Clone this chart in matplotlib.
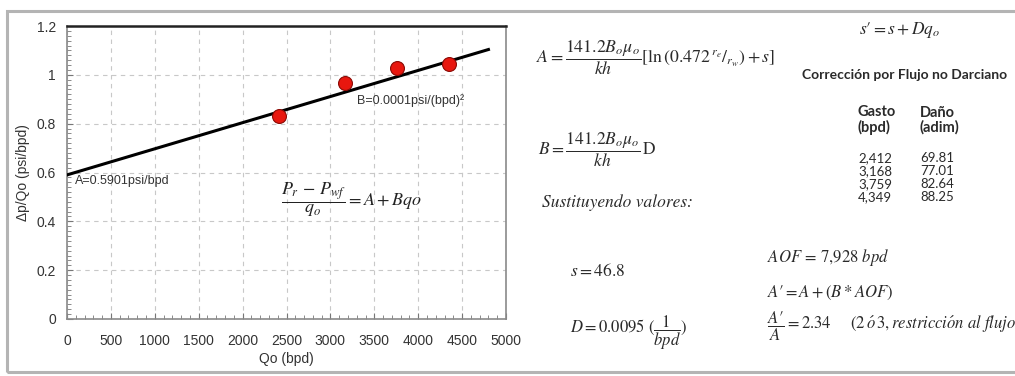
import numpy as np
import matplotlib
matplotlib.use("Agg")
import matplotlib.pyplot as plt
from matplotlib.patches import Rectangle
from matplotlib.ticker import MultipleLocator

# Datos de la prueba
qo = [2412, 3168, 3759, 4349]            # gasto (bpd)
dp_qo = [0.83, 0.965, 1.03, 1.045]       # Δp/Qo (psi/bpd)
dano = [69.81, 77.01, 82.64, 88.25]      # daño corregido (adim)
gasto_txt = ["2,412", "3,168", "3,759", "4,349"]

# Ajuste lineal Δp/Qo = A + B·qo
A = 0.5901
B = 0.000107
q_fit = [0, 4800]

plt.rcParams["mathtext.fontset"] = "stix"
sans = ["Liberation Sans", "DejaVu Sans"]
W, H = 1015, 376


def px(x, y):
    return x / W, 1 - y / H


fig = plt.figure(figsize=(W / 100, H / 100), dpi=100)

# marco gris exterior
fig.patches.append(Rectangle(px(7, 372), (W + 10) / W, 361 / H, transform=fig.transFigure,
                             fill=False, edgecolor="#b4b4b4", lw=2.2))

ax = fig.add_axes([67 / W, 1 - 319 / H, 439 / W, 293 / H])
ax.plot(q_fit, [A + B * q for q in q_fit], color="black", lw=2.2, zorder=3)
ax.plot(qo, dp_qo, "o", color="#e8170f", mec="#8a0a05", mew=0.8, ms=10, zorder=4)

ax.set_xlim(0, 5000)
ax.set_ylim(0, 1.2)
ax.xaxis.set_major_locator(MultipleLocator(500))
ax.xaxis.set_minor_locator(MultipleLocator(100))
ax.yaxis.set_major_locator(MultipleLocator(0.2))
ax.yaxis.set_minor_locator(MultipleLocator(0.02))
ax.set_yticks([0, 0.2, 0.4, 0.6, 0.8, 1, 1.2], ["0", "0.2", "0.4", "0.6", "0.8", "1", "1.2"])
ax.grid(True, which="major", ls=(0, (4, 4)), color="#c8c8c8", lw=0.8)
ax.tick_params(which="both", direction="in", color="#777777")
ax.tick_params(which="major", length=4, labelsize=10, labelcolor="#333333")
ax.tick_params(which="minor", length=3)
ax.tick_params(axis="x", pad=11)
ax.tick_params(axis="y", pad=8)
for lab in ax.get_xticklabels() + ax.get_yticklabels():
    lab.set_family(sans)
for side in ["left", "bottom", "right"]:
    ax.spines[side].set_color("#8a8a8a")
    ax.spines[side].set_linewidth(1.2)
ax.spines["top"].set_color("#222222")
ax.spines["top"].set_linewidth(1.8)

ax.set_xlabel("Qo (bpd)", family=sans, fontsize=10, color="#333333", labelpad=3)
ax.set_ylabel("Δp/Qo (psi/bpd)", family=sans, fontsize=10, color="#333333", labelpad=5)

ax.text(87, 0.567, "A=0.5901psi/bpd", family=sans, fontsize=9, color="#333333", va="center")
ax.text(3300, 0.895, "B=0.0001psi/(bpd)²", family=sans, fontsize=9, color="#333333", va="center")
ax.text(2440, 0.49, r"$\dfrac{P_r\,-\,P_{wf}}{q_o} = A + Bqo$", fontsize=13, color="#222222",
        va="center")

# ecuaciones del lado derecho
tc = "#2a2a2a"
fig.text(*px(536, 58), r"$A = \dfrac{141.2B_o\mu_o}{kh}\left[\ln\left(0.472\,{}^{r_e}/_{r_w}\right) + s\right]$",
         fontsize=12.8, color=tc, va="center")
fig.text(*px(538, 150), r"$B = \dfrac{141.2B_o\mu_o}{kh}\,\mathrm{D}$", fontsize=12.5, color=tc,
         va="center")
fig.text(*px(542, 203), "Sustituyendo valores:", family="STIXGeneral", style="italic",
         fontsize=12.5, color=tc, va="center")
fig.text(*px(570, 271), r"$s = 46.8$", fontsize=12.5, color=tc, va="center")
fig.text(*px(570, 333), r"$D = 0.0095\ (\dfrac{1}{bpd})$", fontsize=12, color=tc, va="center")

fig.text(*px(900, 30), r"$s\prime = s + Dq_o$", fontsize=12.5, color=tc, va="center", ha="center")
fig.text(*px(905, 75), "Corrección por Flujo no Darciano", family="Lato", weight="bold",
         fontsize=10, color=tc, va="center", ha="center")
fig.text(*px(857, 120), "Gasto\n(bpd)", family="Lato", weight="bold", fontsize=10.5, color=tc,
         va="center", linespacing=1.0)
fig.text(*px(920, 120), "Daño\n(adim)", family="Lato", weight="bold", fontsize=10.5, color=tc,
         va="center", linespacing=1.0)
for i, (g, d) in enumerate(zip(gasto_txt, dano)):
    y = 158 + i * 13
    fig.text(*px(858, y), g, family="Lato", fontsize=9.5, color=tc, va="center")
    fig.text(*px(920, y), f"{d:.2f}", family="Lato", fontsize=9.5, color=tc, va="center")

fig.text(*px(767, 258), r"$AOF\, =\, 7{,}928\ bpd$", fontsize=12, color=tc, va="center")
fig.text(*px(767, 293), r"$A\prime = A + (B * AOF)$", fontsize=12, color=tc, va="center")
fig.text(*px(767, 326), r"$\dfrac{A\prime}{A} = 2.34\quad\ \ (2\,\acute{o}\,3, restricci\acute{o}n\ al\ flujo$",
         fontsize=12, color=tc, va="center")

fig.savefig("out.png", dpi=100)
